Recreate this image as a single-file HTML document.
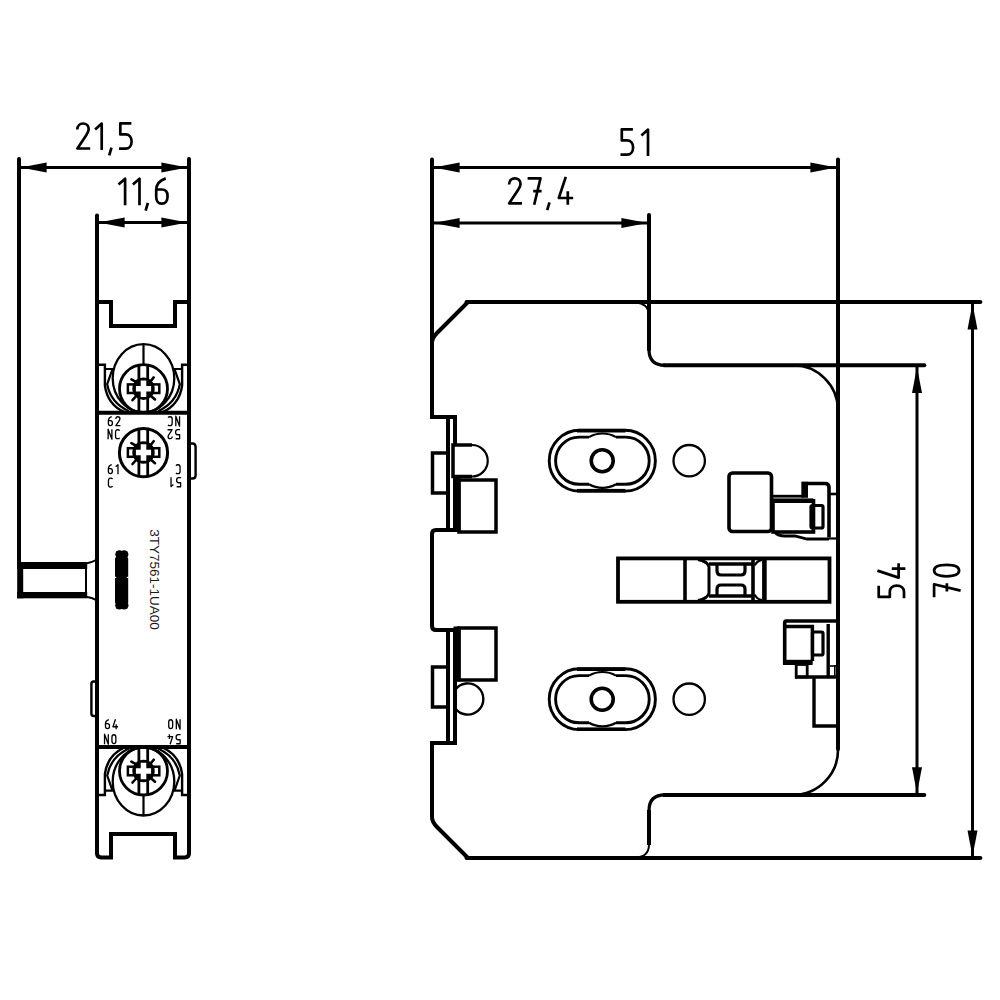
<!DOCTYPE html>
<html><head><meta charset="utf-8"><title>drawing</title>
<style>html,body{margin:0;padding:0;background:#fff;}svg{display:block;}</style>
</head><body>
<svg width="1000" height="1000" viewBox="0 0 1000 1000">
<rect x="0" y="0" width="1000" height="1000" fill="#fff"/>
<g stroke="#000" fill="none" stroke-linecap="butt" stroke-linejoin="miter">
<line x1="19" y1="159" x2="19" y2="563" stroke-width="4.0" stroke-linecap="round"/>
<line x1="189" y1="159" x2="189" y2="853" stroke-width="4.0" stroke-linecap="round"/>
<line x1="20.6" y1="167.5" x2="187.4" y2="167.5" stroke-width="3.0" stroke-linecap="butt"/>
<path d="M20.60,167.50 L46.60,162.50 L46.60,172.50 Z" stroke="none" fill="#000"/>
<path d="M187.40,167.50 L161.40,172.50 L161.40,162.50 Z" stroke="none" fill="#000"/>
<path d="M1.5,7.6 C1.5,3.7 4,1.5 7.2,1.5 C10.4,1.5 12.9,3.7 12.9,7.1 C12.9,9.4 12,11 10.6,13 L1.6,26.5 H14.4" transform="translate(75.80,122.00) scale(1.0000)" stroke-width="2.700" fill="none" stroke-linejoin="round"/>
<path d="M0.9,7.4 L7.5,1.6 V28" transform="translate(94.20,122.00) scale(1.0000)" stroke-width="2.700" fill="none" stroke-linejoin="round"/>
<path d="M3.9,25.6 L1.6,33.4" transform="translate(107.60,122.00) scale(1.0000)" stroke-width="2.700" fill="none" stroke-linejoin="round"/>
<path d="M12.4,1.3 H1.3 V12.4 H6.5 C10.2,12.4 12.6,15.3 12.6,19.4 C12.6,23.6 10.2,26.6 6.5,26.6 H0" transform="translate(119.00,122.00) scale(1.0000)" stroke-width="2.700" fill="none" stroke-linejoin="round"/>
<line x1="97" y1="215.6" x2="97" y2="853" stroke-width="4.0" stroke-linecap="round"/>
<line x1="98.6" y1="222.5" x2="187.4" y2="222.5" stroke-width="3.0" stroke-linecap="butt"/>
<path d="M98.60,222.50 L124.60,217.50 L124.60,227.50 Z" stroke="none" fill="#000"/>
<path d="M187.40,222.50 L161.40,227.50 L161.40,217.50 Z" stroke="none" fill="#000"/>
<path d="M0.9,7.4 L7.5,1.6 V28" transform="translate(117.60,177.20) scale(1.0000)" stroke-width="2.700" fill="none" stroke-linejoin="round"/>
<path d="M0.9,7.4 L7.5,1.6 V28" transform="translate(132.00,177.20) scale(1.0000)" stroke-width="2.700" fill="none" stroke-linejoin="round"/>
<path d="M3.9,25.6 L1.6,33.4" transform="translate(144.00,177.20) scale(1.0000)" stroke-width="2.700" fill="none" stroke-linejoin="round"/>
<path d="M10.8,1.2 C5.5,3 1.3,6.5 1.3,13 V19.8 C1.3,23.8 3.6,26.4 6.6,26.4 H7 C10.4,26.4 12.6,23.8 12.6,19.8 V18.6 C12.6,14.6 10.4,12.3 7,12.3 H1.3" transform="translate(154.90,177.20) scale(1.0000)" stroke-width="2.700" fill="none" stroke-linejoin="round"/>
<path d="M97,302 H111 V326 H175 V302 H189" stroke-width="4.0" fill="none" />
<path d="M97,853 Q97,857.5 101.5,857.5 H111 V834 H175 V857.5 H184.5 Q189,857.5 189,853" stroke-width="4.0" fill="none" />
<line x1="97" y1="412.7" x2="189" y2="412.7" stroke-width="4.0" stroke-linecap="butt"/>
<line x1="97" y1="747" x2="189" y2="747" stroke-width="4.0" stroke-linecap="butt"/>
<rect x="17.2" y="562" width="70" height="7" rx="0" stroke="none" fill="#000"/>
<rect x="17.2" y="592" width="70" height="6.3" rx="0" stroke="none" fill="#000"/>
<rect x="17.2" y="562" width="6" height="36.3" rx="0" stroke="none" fill="#000"/>
<line x1="86" y1="569" x2="86" y2="592" stroke-width="2.0" stroke-linecap="butt"/>
<path d="M86,563.5 Q92,562.5 97,559.5" stroke-width="2.0" fill="none" />
<path d="M86,596.8 Q92,597.5 97,600.5" stroke-width="2.0" fill="none" />
<path d="M189,443.5 H192.5 Q195.6,443.5 195.6,447 V475.5 Q195.6,478.5 192.5,478.5 H189" stroke-width="2.4" fill="none" />
<path d="M97,681.5 H93.6 Q91.4,681.5 91.4,684 V713.5 Q91.4,716 93.6,716 H97" stroke-width="2.4" fill="none" />
<defs><clipPath id="clipT"><rect x="90" y="330" width="110" height="82"/></clipPath><clipPath id="clipB"><rect x="90" y="748" width="110" height="82"/></clipPath></defs>
<ellipse cx="143.5" cy="378.2" rx="30.8" ry="34" stroke-width="2.3" fill="none" clip-path="url(#clipT)"/>
<circle cx="143.5" cy="388.7" r="24.0" stroke-width="2.8" fill="none"/>
<line x1="143.5" y1="344.2" x2="143.5" y2="365.3" stroke-width="2.2" stroke-linecap="butt"/>
<line x1="138.9" y1="365.3" x2="138.9" y2="412.2" stroke-width="2.8" stroke-linecap="butt"/>
<line x1="147.7" y1="365.3" x2="147.7" y2="412.2" stroke-width="2.8" stroke-linecap="butt"/>
<rect x="127.9" y="384.4" width="31.4" height="8.6" rx="0" stroke-width="2.5" fill="none"/>
<line x1="137.5" y1="382.7" x2="131.4" y2="379.4" stroke-width="2.6" stroke-linecap="round"/>
<line x1="149.5" y1="382.7" x2="153.7" y2="377.4" stroke-width="2.6" stroke-linecap="round"/>
<line x1="137.5" y1="394.7" x2="132.5" y2="400.2" stroke-width="2.6" stroke-linecap="round"/>
<line x1="149.5" y1="394.7" x2="155.0" y2="399.4" stroke-width="2.6" stroke-linecap="round"/>
<circle cx="143.5" cy="388.7" r="11.2" stroke-width="0" fill="#000"/>
<path d="M140.7,380.5 H146.3 V385.9 H151.1 V391.5 H146.3 V396.9 H140.7 V391.5 H135.9 V385.9 H140.7 Z" fill="#fff" stroke="none"/>
<path d="M97.0,364.7 H104.9 V385.7 Q107.5,404.7 124.5,412.2" stroke-width="2.4" fill="none" />
<path d="M104.0,369.0 H112.5 L107.2,384.2 Q110.5,402.7 129.0,411.2" stroke-width="2.2" fill="none" />
<path d="M190.0,364.7 H182.1 V385.7 Q179.5,404.7 162.5,412.2" stroke-width="2.4" fill="none" />
<path d="M183.0,369.0 H174.5 L179.8,384.2 Q176.5,402.7 158.0,411.2" stroke-width="2.2" fill="none" />
<ellipse cx="143.5" cy="781.5" rx="30.8" ry="34" stroke-width="2.3" fill="none" clip-path="url(#clipB)"/>
<circle cx="143.5" cy="771" r="24.0" stroke-width="2.8" fill="none"/>
<line x1="143.5" y1="815.5" x2="143.5" y2="794.4" stroke-width="2.2" stroke-linecap="butt"/>
<line x1="138.9" y1="794.4" x2="138.9" y2="747.5" stroke-width="2.8" stroke-linecap="butt"/>
<line x1="147.7" y1="794.4" x2="147.7" y2="747.5" stroke-width="2.8" stroke-linecap="butt"/>
<rect x="127.9" y="766.7" width="31.4" height="8.6" rx="0" stroke-width="2.5" fill="none"/>
<line x1="137.5" y1="765" x2="131.4" y2="761.7" stroke-width="2.6" stroke-linecap="round"/>
<line x1="149.5" y1="765" x2="153.7" y2="759.7" stroke-width="2.6" stroke-linecap="round"/>
<line x1="137.5" y1="777" x2="132.5" y2="782.5" stroke-width="2.6" stroke-linecap="round"/>
<line x1="149.5" y1="777" x2="155.0" y2="781.7" stroke-width="2.6" stroke-linecap="round"/>
<circle cx="143.5" cy="771" r="11.2" stroke-width="0" fill="#000"/>
<path d="M140.7,762.8 H146.3 V768.2 H151.1 V773.8 H146.3 V779.2 H140.7 V773.8 H135.9 V768.2 H140.7 Z" fill="#fff" stroke="none"/>
<path d="M97.0,795 H104.9 V774 Q107.5,755 124.5,747.5" stroke-width="2.4" fill="none" />
<path d="M104.0,790.7 H112.5 L107.2,775.5 Q110.5,757 129.0,748.5" stroke-width="2.2" fill="none" />
<path d="M190.0,795 H182.1 V774 Q179.5,755 162.5,747.5" stroke-width="2.4" fill="none" />
<path d="M183.0,790.7 H174.5 L179.8,775.5 Q176.5,757 158.0,748.5" stroke-width="2.2" fill="none" />
<circle cx="143.5" cy="452.7" r="24.1" stroke-width="3.0" fill="none"/>
<line x1="138.9" y1="428.8" x2="138.9" y2="476.8" stroke-width="2.8" stroke-linecap="butt"/>
<line x1="147.7" y1="428.8" x2="147.7" y2="476.8" stroke-width="2.8" stroke-linecap="butt"/>
<rect x="127.9" y="448.2" width="31.4" height="8.6" rx="0" stroke-width="2.5" fill="none"/>
<line x1="137.5" y1="446.5" x2="131.4" y2="443.2" stroke-width="2.6" stroke-linecap="round"/>
<line x1="149.5" y1="446.5" x2="153.7" y2="441.2" stroke-width="2.6" stroke-linecap="round"/>
<line x1="137.5" y1="458.5" x2="132.5" y2="464.0" stroke-width="2.6" stroke-linecap="round"/>
<line x1="149.5" y1="458.5" x2="155.0" y2="463.2" stroke-width="2.6" stroke-linecap="round"/>
<circle cx="143.5" cy="452.5" r="11.2" stroke-width="0" fill="#000"/>
<path d="M140.7,444.3 H146.3 V449.7 H151.1 V455.3 H146.3 V460.7 H140.7 V455.3 H135.9 V449.7 H140.7 Z" fill="#fff" stroke="none"/>
<rect x="115.0" y="557.5" width="13.2" height="46" rx="1.2" stroke="none" fill="#000"/>
<circle cx="119.5" cy="554.4" r="4.2" stroke-width="0" fill="#000"/>
<circle cx="119.5" cy="605.2" r="4.3" stroke-width="0" fill="#000"/>
<circle cx="124.2" cy="554.4" r="4.2" stroke-width="0" fill="#000"/>
<circle cx="124.2" cy="605.2" r="4.3" stroke-width="0" fill="#000"/>
<rect x="116.0" y="551.5" width="11.4" height="8" rx="0" stroke="none" fill="#000"/>
<rect x="116.0" y="600.5" width="11.4" height="8" rx="0" stroke="none" fill="#000"/>
<path d="M114.6,576.2 l2.2,1.2 l-2.2,1.2 Z M128.6,576.2 l-2.2,1.2 l2.2,1.2 Z" fill="#fff" stroke="none"/>
<text x="0" y="0" transform="translate(150.0,529.3) rotate(90)" font-family="Liberation Sans, sans-serif" font-size="13.5" fill="#1a1a1a" stroke="none">3TY7561-1UA00</text>
<path d="M10.8,1.2 C5.5,3 1.3,6.5 1.3,13 V19.8 C1.3,23.8 3.6,26.4 6.6,26.4 H7 C10.4,26.4 12.6,23.8 12.6,19.8 V18.6 C12.6,14.6 10.4,12.3 7,12.3 H1.3" transform="translate(107.90,416.20) scale(0.3571)" stroke-width="3.640" fill="none" stroke-linejoin="round"/>
<path d="M1.5,7.6 C1.5,3.7 4,1.5 7.2,1.5 C10.4,1.5 12.9,3.7 12.9,7.1 C12.9,9.4 12,11 10.6,13 L1.6,26.5 H14.4" transform="translate(115.30,416.20) scale(0.3571)" stroke-width="3.640" fill="none" stroke-linejoin="round"/>
<path d="M1.5,28 V0 L12,28 V0" transform="translate(107.60,429.20) scale(0.3571)" stroke-width="3.640" fill="none" stroke-linejoin="round"/>
<path d="M13,4 C11.8,2.3 10,1.5 7.8,1.5 H6.8 C3.6,1.5 1.5,4.2 1.5,8.5 V19.5 C1.5,23.8 3.6,26.5 6.8,26.5 H7.8 C10,26.5 11.8,25.7 13,24" transform="translate(115.00,429.20) scale(0.3571)" stroke-width="3.640" fill="none" stroke-linejoin="round"/>
<path d="M10.8,1.2 C5.5,3 1.3,6.5 1.3,13 V19.8 C1.3,23.8 3.6,26.4 6.6,26.4 H7 C10.4,26.4 12.6,23.8 12.6,19.8 V18.6 C12.6,14.6 10.4,12.3 7,12.3 H1.3" transform="translate(107.90,464.20) scale(0.3571)" stroke-width="3.640" fill="none" stroke-linejoin="round"/>
<path d="M0.9,7.4 L7.5,1.6 V28" transform="translate(115.30,464.20) scale(0.3571)" stroke-width="3.640" fill="none" stroke-linejoin="round"/>
<path d="M13,4 C11.8,2.3 10,1.5 7.8,1.5 H6.8 C3.6,1.5 1.5,4.2 1.5,8.5 V19.5 C1.5,23.8 3.6,26.5 6.8,26.5 H7.8 C10,26.5 11.8,25.7 13,24" transform="translate(107.90,477.60) scale(0.3571)" stroke-width="3.640" fill="none" stroke-linejoin="round"/>
<g transform="rotate(180 173.80 421.20)">
<path d="M1.5,28 V0 L12,28 V0" transform="translate(167.50,416.20) scale(0.3571)" stroke-width="3.640" fill="none" stroke-linejoin="round"/>
<path d="M13,4 C11.8,2.3 10,1.5 7.8,1.5 H6.8 C3.6,1.5 1.5,4.2 1.5,8.5 V19.5 C1.5,23.8 3.6,26.5 6.8,26.5 H7.8 C10,26.5 11.8,25.7 13,24" transform="translate(174.90,416.20) scale(0.3571)" stroke-width="3.640" fill="none" stroke-linejoin="round"/>
</g>
<g transform="rotate(180 173.80 434.20)">
<path d="M12.4,1.3 H1.3 V12.4 H6.5 C10.2,12.4 12.6,15.3 12.6,19.4 C12.6,23.6 10.2,26.6 6.5,26.6 H0" transform="translate(167.50,429.20) scale(0.3571)" stroke-width="3.640" fill="none" stroke-linejoin="round"/>
<path d="M1.5,7.6 C1.5,3.7 4,1.5 7.2,1.5 C10.4,1.5 12.9,3.7 12.9,7.1 C12.9,9.4 12,11 10.6,13 L1.6,26.5 H14.4" transform="translate(174.90,429.20) scale(0.3571)" stroke-width="3.640" fill="none" stroke-linejoin="round"/>
</g>
<g transform="rotate(180 178.00 469.20)">
<path d="M13,4 C11.8,2.3 10,1.5 7.8,1.5 H6.8 C3.6,1.5 1.5,4.2 1.5,8.5 V19.5 C1.5,23.8 3.6,26.5 6.8,26.5 H7.8 C10,26.5 11.8,25.7 13,24" transform="translate(175.40,464.20) scale(0.3571)" stroke-width="3.640" fill="none" stroke-linejoin="round"/>
</g>
<g transform="rotate(180 174.80 482.20)">
<path d="M12.4,1.3 H1.3 V12.4 H6.5 C10.2,12.4 12.6,15.3 12.6,19.4 C12.6,23.6 10.2,26.6 6.5,26.6 H0" transform="translate(168.50,477.20) scale(0.3571)" stroke-width="3.640" fill="none" stroke-linejoin="round"/>
<path d="M0.9,7.4 L7.5,1.6 V28" transform="translate(175.90,477.20) scale(0.3571)" stroke-width="3.640" fill="none" stroke-linejoin="round"/>
</g>
<path d="M10.8,1.2 C5.5,3 1.3,6.5 1.3,13 V19.8 C1.3,23.8 3.6,26.4 6.6,26.4 H7 C10.4,26.4 12.6,23.8 12.6,19.8 V18.6 C12.6,14.6 10.4,12.3 7,12.3 H1.3" transform="translate(105.00,719.20) scale(0.3571)" stroke-width="3.640" fill="none" stroke-linejoin="round"/>
<path d="M8.6,0 L1.6,21.2 H16 M10.6,14.4 V28" transform="translate(112.40,719.20) scale(0.3571)" stroke-width="3.640" fill="none" stroke-linejoin="round"/>
<path d="M1.5,28 V0 L12,28 V0" transform="translate(104.00,734.20) scale(0.3571)" stroke-width="3.640" fill="none" stroke-linejoin="round"/>
<path d="M7,1.5 C10.6,1.5 12.5,4.6 12.5,9 V19 C12.5,23.4 10.6,26.5 7,26.5 C3.4,26.5 1.5,23.4 1.5,19 V9 C1.5,4.6 3.4,1.5 7,1.5 Z" transform="translate(111.40,734.20) scale(0.3571)" stroke-width="3.640" fill="none" stroke-linejoin="round"/>
<g transform="rotate(180 174.30 724.20)">
<path d="M1.5,28 V0 L12,28 V0" transform="translate(168.00,719.20) scale(0.3571)" stroke-width="3.640" fill="none" stroke-linejoin="round"/>
<path d="M7,1.5 C10.6,1.5 12.5,4.6 12.5,9 V19 C12.5,23.4 10.6,26.5 7,26.5 C3.4,26.5 1.5,23.4 1.5,19 V9 C1.5,4.6 3.4,1.5 7,1.5 Z" transform="translate(175.40,719.20) scale(0.3571)" stroke-width="3.640" fill="none" stroke-linejoin="round"/>
</g>
<g transform="rotate(180 174.30 739.20)">
<path d="M12.4,1.3 H1.3 V12.4 H6.5 C10.2,12.4 12.6,15.3 12.6,19.4 C12.6,23.6 10.2,26.6 6.5,26.6 H0" transform="translate(168.00,734.20) scale(0.3571)" stroke-width="3.640" fill="none" stroke-linejoin="round"/>
<path d="M8.6,0 L1.6,21.2 H16 M10.6,14.4 V28" transform="translate(175.40,734.20) scale(0.3571)" stroke-width="3.640" fill="none" stroke-linejoin="round"/>
</g>
<line x1="432" y1="159.4" x2="432" y2="342" stroke-width="4.0" stroke-linecap="round"/>
<line x1="838" y1="159.4" x2="838" y2="749" stroke-width="4.0" stroke-linecap="round"/>
<line x1="433.6" y1="167.5" x2="836.4" y2="167.5" stroke-width="3.0" stroke-linecap="butt"/>
<path d="M433.60,167.50 L459.60,162.50 L459.60,172.50 Z" stroke="none" fill="#000"/>
<path d="M836.40,167.50 L810.40,172.50 L810.40,162.50 Z" stroke="none" fill="#000"/>
<path d="M12.4,1.3 H1.3 V12.4 H6.5 C10.2,12.4 12.6,15.3 12.6,19.4 C12.6,23.6 10.2,26.6 6.5,26.6 H0" transform="translate(620.50,128.00) scale(1.0000)" stroke-width="2.700" fill="none" stroke-linejoin="round"/>
<path d="M0.9,7.4 L7.5,1.6 V28" transform="translate(640.50,128.00) scale(1.0000)" stroke-width="2.700" fill="none" stroke-linejoin="round"/>
<line x1="649" y1="215" x2="649" y2="349.5" stroke-width="4.0" stroke-linecap="round"/>
<line x1="433.6" y1="223" x2="647.4" y2="223" stroke-width="3.0" stroke-linecap="butt"/>
<path d="M433.60,223.00 L459.60,218.00 L459.60,228.00 Z" stroke="none" fill="#000"/>
<path d="M647.40,223.00 L621.40,228.00 L621.40,218.00 Z" stroke="none" fill="#000"/>
<path d="M1.5,7.6 C1.5,3.7 4,1.5 7.2,1.5 C10.4,1.5 12.9,3.7 12.9,7.1 C12.9,9.4 12,11 10.6,13 L1.6,26.5 H14.4" transform="translate(507.60,176.80) scale(1.0000)" stroke-width="2.700" fill="none" stroke-linejoin="round"/>
<path d="M0,1.5 H12.9 L6.6,28 M5.6,14.3 H14" transform="translate(527.60,176.80) scale(1.0000)" stroke-width="2.700" fill="none" stroke-linejoin="round"/>
<path d="M3.9,25.6 L1.6,33.4" transform="translate(545.60,176.80) scale(1.0000)" stroke-width="2.700" fill="none" stroke-linejoin="round"/>
<path d="M8.6,0 L1.6,21.2 H16 M10.6,14.4 V28" transform="translate(557.20,176.80) scale(1.0000)" stroke-width="2.700" fill="none" stroke-linejoin="round"/>
<line x1="466.5" y1="302" x2="980.4" y2="302" stroke-width="4.0" stroke-linecap="round"/>
<line x1="466.5" y1="858" x2="980.4" y2="858" stroke-width="4.0" stroke-linecap="round"/>
<line x1="972.5" y1="303.6" x2="972.5" y2="856.4" stroke-width="3.0" stroke-linecap="butt"/>
<path d="M972.50,303.60 L977.50,329.60 L967.50,329.60 Z" stroke="none" fill="#000"/>
<path d="M972.50,856.40 L967.50,830.40 L977.50,830.40 Z" stroke="none" fill="#000"/>
<line x1="664" y1="365.3" x2="924.3" y2="365.3" stroke-width="4.0" stroke-linecap="round"/>
<line x1="664" y1="794.9" x2="924.3" y2="794.9" stroke-width="4.0" stroke-linecap="round"/>
<line x1="917" y1="366.9" x2="917" y2="793.3" stroke-width="3.0" stroke-linecap="butt"/>
<path d="M917.00,366.90 L922.00,392.90 L912.00,392.90 Z" stroke="none" fill="#000"/>
<path d="M917.00,793.30 L912.00,767.30 L922.00,767.30 Z" stroke="none" fill="#000"/>
<g transform="translate(877.4,598.2) rotate(-90)">
<path d="M12.4,1.3 H1.3 V12.4 H6.5 C10.2,12.4 12.6,15.3 12.6,19.4 C12.6,23.6 10.2,26.6 6.5,26.6 H0" transform="translate(0.00,0.00) scale(1.0000)" stroke-width="2.700" fill="none" stroke-linejoin="round"/>
<path d="M8.6,0 L1.6,21.2 H16 M10.6,14.4 V28" transform="translate(19.00,0.00) scale(1.0000)" stroke-width="2.700" fill="none" stroke-linejoin="round"/>
</g>
<g transform="translate(932.6,597.2) rotate(-90)">
<path d="M0,1.5 H12.9 L6.6,28 M5.6,14.3 H14" transform="translate(0.00,0.00) scale(1.0000)" stroke-width="2.700" fill="none" stroke-linejoin="round"/>
<path d="M7.2,1.5 C10.9,1.5 12.9,6.5 12.9,14 C12.9,21.5 10.9,26.5 7.2,26.5 C3.5,26.5 1.5,21.5 1.5,14 C1.5,6.5 3.5,1.5 7.2,1.5 Z" transform="translate(19.40,0.00) scale(1.0000)" stroke-width="2.700" fill="none" stroke-linejoin="round"/>
</g>
<path d="M468,302 L437,333 Q432,338 432,343 V417 H455 V444.5 M455,477 V530 H436 Q432,530 432,534 V626 Q432,630 436,630 H455 V743 H432 V817 Q432,822 437,827 L468,858" stroke-width="4.0" fill="none" />
<path d="M649,349.5 Q649,365.3 665,365.3" stroke-width="3.2" fill="none" />
<path d="M793,365.3 A45,45 0 0 1 838,410" stroke-width="2.6" fill="none" />
<path d="M838,749 A45,45 0 0 1 793,794.9" stroke-width="2.6" fill="none" />
<path d="M665,794.9 Q649,794.9 649,810.5" stroke-width="3.2" fill="none" />
<line x1="649" y1="810" x2="649" y2="845" stroke-width="4.0" stroke-linecap="butt"/>
<path d="M636,302.6 Q647.5,303.5 649,314" stroke-width="2.0" fill="none" />
<path d="M649,845 Q648.5,857 636,857.4" stroke-width="2.0" fill="none" />
<line x1="448" y1="418.5" x2="448" y2="529" stroke-width="4.0" stroke-linecap="butt"/>
<rect x="432.5" y="453" width="15.5" height="40" rx="0" stroke-width="3.5" fill="none"/>
<path d="M472,445 H453 V476.5 H472" stroke-width="3.5" fill="none" />
<path d="M472,445 A15.75,15.75 0 0 1 472,476.5" stroke-width="2.2" fill="none" />
<rect x="453.5" y="477" width="7" height="55" rx="0" stroke="none" fill="#000"/>
<rect x="459" y="480" width="37" height="52" rx="0" stroke-width="3.5" fill="none"/>
<line x1="448" y1="631" x2="448" y2="742" stroke-width="4.0" stroke-linecap="butt"/>
<rect x="432.5" y="667" width="15.5" height="40" rx="0" stroke-width="3.5" fill="none"/>
<rect x="453.5" y="626.5" width="7" height="55" rx="0" stroke="none" fill="#000"/>
<rect x="459" y="628" width="37" height="52" rx="0" stroke-width="3.5" fill="none"/>
<path d="M455,690 A15.6,15.6 0 1 1 455,708" stroke-width="2.4" fill="none" />
<path d="M579.6,430.3 H625 A30.4,30.4 0 0 1 625,491.09999999999997 H579.6 A30.4,30.4 0 0 1 579.6,430.3 Z" stroke-width="2.9" fill="none" />
<rect x="577" y="428.9" width="48.5" height="3.6" rx="0" stroke="none" fill="#000"/>
<rect x="577" y="488.9" width="48.5" height="3.6" rx="0" stroke="none" fill="#000"/>
<path d="M589,437.09999999999997 H579.2 A23.6,23.6 0 0 0 579.2,484.3 H589 M616,437.09999999999997 H625.6 A23.6,23.6 0 0 1 625.6,484.3 H616" stroke-width="2.9" fill="none" />
<path d="M589,437.09999999999997 A27,27 0 0 1 616,437.09999999999997 M589,484.3 A27,27 0 0 0 616,484.3" stroke-width="2.2" fill="none" />
<circle cx="602.2" cy="460.7" r="11.0" stroke-width="3.6" fill="none"/>
<circle cx="689.2" cy="460.7" r="15.7" stroke-width="2.3" fill="none"/>
<path d="M579.6,668.8000000000001 H625 A30.4,30.4 0 0 1 625,729.6 H579.6 A30.4,30.4 0 0 1 579.6,668.8000000000001 Z" stroke-width="2.9" fill="none" />
<rect x="577" y="667.4000000000001" width="48.5" height="3.6" rx="0" stroke="none" fill="#000"/>
<rect x="577" y="727.4000000000001" width="48.5" height="3.6" rx="0" stroke="none" fill="#000"/>
<path d="M589,675.6 H579.2 A23.6,23.6 0 0 0 579.2,722.8000000000001 H589 M616,675.6 H625.6 A23.6,23.6 0 0 1 625.6,722.8000000000001 H616" stroke-width="2.9" fill="none" />
<path d="M589,675.6 A27,27 0 0 1 616,675.6 M589,722.8000000000001 A27,27 0 0 0 616,722.8000000000001" stroke-width="2.2" fill="none" />
<circle cx="602.2" cy="699.2" r="11.0" stroke-width="3.6" fill="none"/>
<circle cx="689.2" cy="699.2" r="15.7" stroke-width="2.3" fill="none"/>
<rect x="618" y="558.4" width="211.5" height="43.4" rx="0" stroke-width="3.8" fill="none"/>
<line x1="685" y1="558.4" x2="685" y2="601.8" stroke-width="3.6" stroke-linecap="butt"/>
<line x1="764.4" y1="558.4" x2="764.4" y2="601.8" stroke-width="4.6" stroke-linecap="butt"/>
<path d="M698,559.5 Q707.5,561 709,567 V593 Q707.5,599 698,600.5" stroke-width="3.0" fill="none" />
<line x1="753" y1="560" x2="753" y2="600" stroke-width="3.6" stroke-linecap="butt"/>
<path d="M754.8,565.5 Q756.5,560.8 762,559.8" stroke-width="2.2" fill="none" />
<path d="M754.8,594.5 Q756.5,599.2 762,600.2" stroke-width="2.2" fill="none" />
<line x1="709" y1="564" x2="753" y2="564" stroke-width="3.4" stroke-linecap="butt"/>
<line x1="709" y1="596" x2="753" y2="596" stroke-width="3.4" stroke-linecap="butt"/>
<path d="M717,564 V571 Q717,575 721,575 H741 Q745,575 745,571 V564" stroke-width="3.2" fill="none" />
<path d="M717,596 V589 Q717,585 721,585 H741 Q745,585 745,589 V596" stroke-width="3.2" fill="none" />
<line x1="699" y1="560" x2="709" y2="565" stroke-width="1.2" stroke-linecap="butt"/>
<line x1="699" y1="600" x2="709" y2="595" stroke-width="1.2" stroke-linecap="butt"/>
<rect x="729" y="473" width="42.5" height="58.5" rx="3.5" stroke-width="3.6" fill="none"/>
<rect x="773" y="500.8" width="40.5" height="31.2" rx="0" stroke-width="3.6" fill="none"/>
<rect x="773" y="498.4" width="40.5" height="4.6" rx="0" stroke="none" fill="#000"/>
<line x1="772" y1="496.2" x2="803" y2="496.2" stroke-width="2.8" stroke-linecap="butt"/>
<path d="M803.5,496 V483.5 H825 Q829,483.5 829,487.5 V537.5" stroke-width="3.6" fill="none" />
<rect x="801.5" y="481.8" width="6.5" height="16" rx="0" stroke="none" fill="#000"/>
<rect x="811" y="505.5" width="12" height="22.5" rx="1.5" stroke-width="3.2" fill="none"/>
<line x1="829" y1="494" x2="837" y2="494" stroke-width="2.6" stroke-linecap="butt"/>
<line x1="829" y1="538.5" x2="837" y2="538.5" stroke-width="2.2" stroke-linecap="butt"/>
<path d="M775,532.5 Q778,536 785,536 H795 L807,539 H829" stroke-width="2.8" fill="none" />
<path d="M838,621 H786 Q784.7,621 784.7,623 V663.3 H812" stroke-width="3.6" fill="none" />
<rect x="784.7" y="659.8" width="28" height="5" rx="0" stroke="none" fill="#000"/>
<path d="M785,626.6 H812.4 V661" stroke-width="3.5" fill="none" />
<rect x="812.5" y="632" width="10.5" height="23" rx="1.5" stroke-width="3.2" fill="none"/>
<rect x="796.2" y="664.5" width="11" height="12.5" rx="0" stroke-width="2.8" fill="none"/>
<line x1="795" y1="677" x2="837" y2="677" stroke-width="3.4" stroke-linecap="butt"/>
<line x1="828.2" y1="624" x2="828.2" y2="677" stroke-width="3.4" stroke-linecap="butt"/>
<line x1="834.8" y1="665" x2="834.8" y2="677" stroke-width="1.6" stroke-linecap="butt"/>
<line x1="830" y1="666" x2="837" y2="666" stroke-width="1.6" stroke-linecap="butt"/>
<path d="M814,677 V726 H838" stroke-width="3.4" fill="none" />
</g>
</svg>
</body></html>
